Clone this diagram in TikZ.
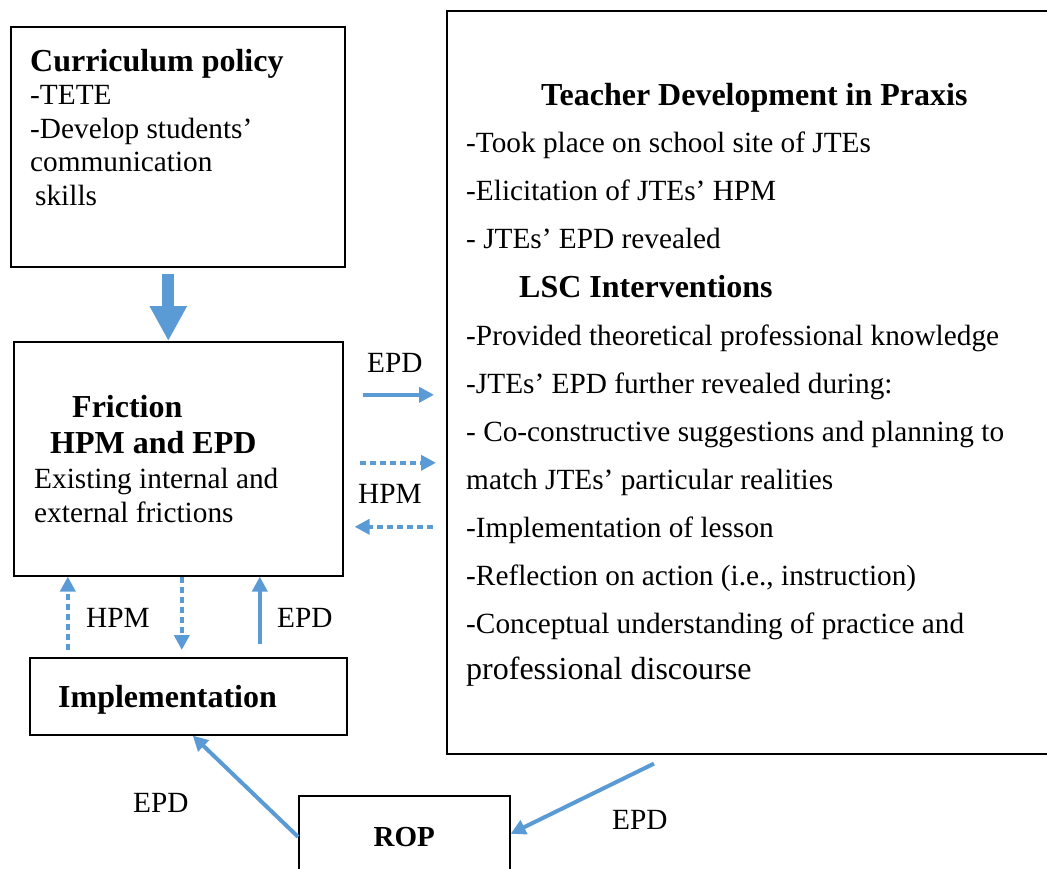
\documentclass[tikz,border=0pt]{standalone}
\usepackage{fontspec}
\setmainfont{Liberation Serif}
\usetikzlibrary{arrows.meta}
\definecolor{flowblue}{RGB}{91,155,213}
\tikzset{
  box/.style={draw, line width=1.6pt, inner sep=0pt, anchor=north west},
  txt/.style={anchor=base west, inner sep=0pt, font=\fontsize{29.3}{34}\selectfont},
  head/.style={anchor=base west, inner sep=0pt, font=\fontsize{32}{36}\selectfont\bfseries},
  solidflow/.style={draw=flowblue, line width=4pt, -{Triangle[length=15pt,width=15pt]}},
  dotflow/.style={solidflow, dash pattern=on 6pt off 4pt},
}
\begin{document}
\begin{tikzpicture}[x=1pt, y=-1pt]
\useasboundingbox (0,0) rectangle (1047,869);
\clip (0,0) rectangle (1047,869);

% ---------- boxes ----------
\node[box, minimum width=334pt, minimum height=240pt] (cur)  at (10,26)  {};
\node[box, minimum width=329pt, minimum height=234pt] (fric) at (13,341) {};
\node[box, minimum width=317pt, minimum height=77pt]  (impl) at (29,657) {};
\node[box, minimum width=620pt, minimum height=743pt] (td)   at (446,10) {};
\node[box, minimum width=211pt, minimum height=82pt,
      font=\fontsize{29}{34}\selectfont\bfseries] (rop) at (298,795) {ROP};

% ---------- curriculum policy ----------
\node[head] (curT) at (30,72)  {Curriculum policy};
\node[txt]  (cur1) at (30,105) {-TETE};
\node[txt]  (cur2) at (30,139) {-Develop students’};
\node[txt]  (cur3) at (30,172) {communication};
\node[txt]  (cur4) at (35,206) {skills};

% ---------- friction ----------
\node[head] (friT) at (72,417) {Friction};
\node[head] (friS) at (50,453) {HPM and EPD};
\node[txt]  (fri1) at (34,488) {Existing internal and};
\node[txt]  (fri2) at (34,522) {external frictions};

% ---------- implementation ----------
\node[head] (impT) at (58,707) {Implementation};

% ---------- teacher development in praxis ----------
\node[head] (tdT) at (541,106) {Teacher Development in Praxis};
\node[txt]  (td1) at (466,153) {-Took place on school site of JTEs};
\node[txt]  (td2) at (466,201) {-Elicitation of JTEs’ HPM};
\node[txt]  (td3) at (466,249) {- JTEs’ EPD revealed};
\node[head] (lsc) at (519,297) {LSC Interventions};
\node[txt]  (td4) at (466,345) {-Provided theoretical professional knowledge};
\node[txt]  (td5) at (466,393) {-JTEs’ EPD further revealed during:};
\node[txt]  (td6) at (466,441) {- Co-constructive suggestions and planning to};
\node[txt]  (td7) at (466,489) {match JTEs’ particular realities};
\node[txt]  (td8) at (466,537) {-Implementation of lesson};
\node[txt]  (td9) at (466,585) {-Reflection on action (i.e., instruction)};
\node[txt]  (td10) at (466,633) {-Conceptual understanding of practice and};
\node[txt, font=\fontsize{32}{36}\selectfont] (td11) at (466,679) {professional discourse};

% ---------- connector labels ----------
\node[txt] (lEPDa) at (367,372) {EPD};
\node[txt] (lHPMa) at (358,503) {HPM};
\node[txt] (lHPMb) at (86,627)  {HPM};
\node[txt] (lEPDb) at (277,627) {EPD};
\node[txt] (lEPDc) at (133,812) {EPD};
\node[txt] (lEPDd) at (612,829) {EPD};

% ---------- connectors ----------
% policy feeds into friction
\coordinate (c1) at ([xshift=-9.5pt]cur.south);
\draw[draw=flowblue, line width=12pt, -{Triangle[length=35pt,width=35pt]},
      shorten <=6pt] (c1) -- (c1 |- fric.north);

% friction <-> teacher development
\coordinate (f1) at ([yshift=64pt]fric.east);
\coordinate (f2) at ([yshift=-4pt]fric.east);
\coordinate (f3) at ([yshift=-68pt]fric.east);
\draw[solidflow, shorten <=19pt, shorten >=12pt] (f1) -- (f1 -| td.west);
\draw[dotflow,   shorten <=16pt, shorten >=10pt] (f2) -- (f2 -| td.west);
\draw[dotflow,   shorten <=13pt, shorten >=11pt] (f3 -| td.west) -- (f3);

% friction <-> implementation
\coordinate (i1) at ([xshift=-120.5pt]impl.north);
\coordinate (i2) at ([xshift=3.5pt]fric.south);
\coordinate (i3) at ([xshift=71.5pt]impl.north);
\draw[dotflow, shorten <=7pt]    (i1) -- (i1 |- fric.south);
\draw[dotflow, shorten >=7pt]    (i2) -- (i2 |- impl.north);
\draw[solidflow, shorten <=13pt] (i3) -- (i3 |- fric.south);

% teacher development -> ROP -> implementation
\coordinate (d1) at ([xshift=208pt, yshift=-9pt]td.south west);
\draw[solidflow] (d1) -- ([yshift=3pt]rop.east);
\draw[solidflow] (rop.west) -- ([xshift=4.5pt]impl.south);
\end{tikzpicture}
\end{document}
